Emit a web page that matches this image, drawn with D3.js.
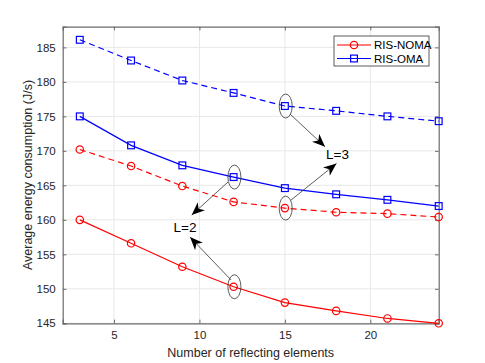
<!DOCTYPE html>
<html>
<head>
<meta charset="utf-8">
<script src="https://cdn.jsdelivr.net/npm/d3@7"></script>
<style>
  body { margin: 0; background: #fff; }
  text { font-family: "Liberation Sans", Arial, sans-serif; }
</style>
</head>
<body>
<div id="chart"></div>
<script>
// number of reflecting elements
var elements = [3, 6, 9, 12, 15, 18, 21, 24];

// average energy consumption (J/s)
var omaL3 = [186.1, 183.1, 180.2, 178.4, 176.5, 175.8, 175.0, 174.3];
var omaL2 = [175.0, 170.8, 167.9, 166.2, 164.6, 163.7, 162.9, 162.0];
var nomaL3 = [170.2, 167.8, 164.9, 162.6, 161.7, 161.1, 160.9, 160.4];
var nomaL2 = [160.0, 156.6, 153.2, 150.3, 148.0, 146.8, 145.7, 145.0];

var xTicks = [5, 10, 15, 20];
var yTicks = [145, 150, 155, 160, 165, 170, 175, 180, 185];

var svgWidth = 485;
var svgHeight = 363;
var margin = {left: 62.7, top: 26.7, right: 46.3, bottom: 39.7};
var w = svgWidth - margin.left - margin.right;
var h = svgHeight - margin.top - margin.bottom;

var svg = d3.select("#chart")
    .append("svg")
    .attr("width", svgWidth)
    .attr("height", svgHeight);

svg.append("defs").append("marker")
    .attr("id", "head")
    .attr("viewBox", "0 0 12 10")
    .attr("refX", 12)
    .attr("refY", 5)
    .attr("markerWidth", 13)
    .attr("markerHeight", 11)
    .attr("markerUnits", "userSpaceOnUse")
    .attr("orient", "auto")
    .append("path")
    .attr("d", "M0,0 L12,5 L0,10 L3.5,5 Z")
    .attr("fill", "#000");

var g = svg.append("g")
    .attr("transform", "translate(" + margin.left + "," + margin.top + ")");

var x = d3.scaleLinear().domain([2, 24]).range([0, w]);
var y = d3.scaleLinear().domain([145, 188]).range([h, 0]);

// grid
g.selectAll(".vgrid").data(xTicks).enter().append("line")
    .attr("x1", d => x(d)).attr("x2", d => x(d))
    .attr("y1", 0).attr("y2", h)
    .attr("stroke", "#e8e8e8").attr("stroke-width", 1);
g.selectAll(".hgrid").data(yTicks).enter().append("line")
    .attr("x1", 0).attr("x2", w)
    .attr("y1", d => y(d)).attr("y2", d => y(d))
    .attr("stroke", "#e8e8e8").attr("stroke-width", 1);

// axes (ticks inside, box on)
var axisColor = "#6b6b6b";
var bottomAxis = g.append("g").attr("transform", "translate(0," + h + ")")
    .call(d3.axisBottom(x).tickValues(xTicks).tickSize(-3.7).tickPadding(8));
var topAxis = g.append("g")
    .call(d3.axisTop(x).tickValues(xTicks).tickSize(-3.7).tickFormat(""));
var leftAxis = g.append("g")
    .call(d3.axisLeft(y).tickValues(yTicks).tickSize(-3.7).tickPadding(7));
var rightAxis = g.append("g").attr("transform", "translate(" + w + ",0)")
    .call(d3.axisRight(y).tickValues(yTicks).tickSize(-3.7).tickFormat(""));

[bottomAxis, topAxis, leftAxis, rightAxis].forEach(function(a) {
    a.select(".domain").attr("stroke", axisColor).attr("stroke-width", 1.2);
    a.selectAll(".tick line").attr("stroke", axisColor);
    a.selectAll(".tick text").attr("fill", "#262626")
        .style("font-size", "11.5px")
        .style("font-family", "'Liberation Sans', Arial, sans-serif");
});

// series
var series = [
    {vals: omaL3, color: "#0000ff", dash: "6,4", marker: "square"},
    {vals: omaL2, color: "#0000ff", dash: null, marker: "square"},
    {vals: nomaL3, color: "#ff0000", dash: "6,4", marker: "circle"},
    {vals: nomaL2, color: "#ff0000", dash: null, marker: "circle"}
];

var line = d3.line()
    .x((d, i) => x(elements[i]))
    .y(d => y(d));

series.forEach(function(s) {
    g.append("path")
        .datum(s.vals)
        .attr("d", line)
        .attr("fill", "none")
        .attr("stroke", s.color)
        .attr("stroke-width", 1.2)
        .attr("stroke-dasharray", s.dash);

    if (s.marker == "circle") {
        g.selectAll(null).data(s.vals).enter().append("circle")
            .attr("cx", (d, i) => x(elements[i]))
            .attr("cy", d => y(d))
            .attr("r", 3.7)
            .attr("fill", "none")
            .attr("stroke", s.color)
            .attr("stroke-width", 1.2);
    } else {
        g.selectAll(null).data(s.vals).enter().append("rect")
            .attr("x", (d, i) => x(elements[i]) - 3.4)
            .attr("y", d => y(d) - 3.4)
            .attr("width", 6.8)
            .attr("height", 6.8)
            .attr("fill", "none")
            .attr("stroke", s.color)
            .attr("stroke-width", 1.2);
    }
});

// annotations: ellipses around points, arrows to the L labels (data units)
var ellipses = [[15, omaL3[4]], [12, omaL2[3]], [15, nomaL3[4]], [12, nomaL2[3]]];
g.selectAll(".ell").data(ellipses).enter().append("ellipse")
    .attr("cx", d => x(d[0]) + 0.8)
    .attr("cy", d => y(d[1]))
    .attr("rx", 6.5)
    .attr("ry", 12)
    .attr("fill", "none")
    .attr("stroke", "#333")
    .attr("stroke-width", 0.8);

var arrows = [
    [15.30, 175.34, 17.35, 170.6],
    [15.36, 162.87, 18.02, 168.17],
    [11.67, 165.48, 9.55, 160.7],
    [11.85, 151.28, 9.45, 157.5]
];
g.selectAll(".arr").data(arrows).enter().append("line")
    .attr("x1", d => x(d[0])).attr("y1", d => y(d[1]))
    .attr("x2", d => x(d[2])).attr("y2", d => y(d[3]))
    .attr("stroke", "#333")
    .attr("stroke-width", 0.8)
    .attr("marker-end", "url(#head)");

var labels = [["L=3", 18.08, 168.82], ["L=2", 9.16, 158.24]];
g.selectAll(".lab").data(labels).enter().append("text")
    .attr("x", d => x(d[1]))
    .attr("y", d => y(d[2]))
    .attr("text-anchor", "middle")
    .style("font-size", "13.5px")
    .attr("fill", "#000")
    .text(d => d[0]);

// axis titles
svg.append("text")
    .attr("x", margin.left + w / 2)
    .attr("y", 357)
    .attr("text-anchor", "middle")
    .style("font-size", "12.5px")
    .attr("fill", "#262626")
    .text("Number of reflecting elements");

svg.append("text")
    .attr("transform", "translate(32," + (margin.top + h / 2) + ") rotate(-90)")
    .attr("text-anchor", "middle")
    .style("font-size", "12.5px")
    .attr("fill", "#262626")
    .text("Average energy consumption (J/s)");

// legend
var legend = svg.append("g").attr("transform", "translate(334,36)");
legend.append("rect")
    .attr("width", 95).attr("height", 30)
    .attr("fill", "#fff")
    .attr("stroke", "#333").attr("stroke-width", 0.8);

var legendItems = [
    {name: "RIS-NOMA", color: "#ff0000", marker: "circle"},
    {name: "RIS-OMA", color: "#0000ff", marker: "square"}
];
legendItems.forEach(function(d, i) {
    var ly = 9 + i * 13.5;
    legend.append("line")
        .attr("x1", 3).attr("x2", 37)
        .attr("y1", ly).attr("y2", ly)
        .attr("stroke", d.color).attr("stroke-width", 1.2);
    if (d.marker == "circle") {
        legend.append("circle").attr("cx", 20).attr("cy", ly).attr("r", 3.7)
            .attr("fill", "none").attr("stroke", d.color).attr("stroke-width", 1.2);
    } else {
        legend.append("rect").attr("x", 16.6).attr("y", ly - 3.4)
            .attr("width", 6.8).attr("height", 6.8)
            .attr("fill", "none").attr("stroke", d.color).attr("stroke-width", 1.2);
    }
    legend.append("text")
        .attr("x", 40).attr("y", ly + 4)
        .style("font-size", "11.5px")
        .attr("fill", "#000")
        .text(d.name);
});
</script>
</body>
</html>
